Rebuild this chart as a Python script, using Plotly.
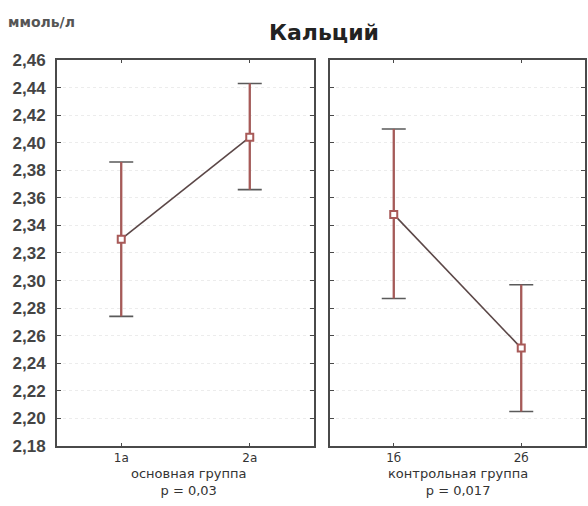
import plotly.graph_objects as go

# data
groups_left = ["1а", "2а"]
means_left = [2.330, 2.404]
upper_left = [2.386, 2.443]
lower_left = [2.274, 2.366]

groups_right = ["1б", "2б"]
means_right = [2.348, 2.251]
upper_right = [2.410, 2.297]
lower_right = [2.287, 2.205]

y_ticks = [2.18, 2.20, 2.22, 2.24, 2.26, 2.28, 2.30, 2.32, 2.34, 2.36, 2.38, 2.40, 2.42, 2.44, 2.46]
group_labels = ["основная группа", "контрольная группа"]
p_labels = ["p = 0,03", "p = 0,017"]
title = "Кальций"
unit = "ммоль/л"

W, H = 588, 506
def px(x): return x / W
def py(y): return 1 - y / H

line_col = "#5b4747"
err_col = "#a85a58"
cap_col = "#5a5a5a"
frame_col = "#4a4a4a"
font = "Liberation Sans"
txt = "DejaVu Sans"

fig = go.Figure()

def add_panel(xs, means, up, lo, xa, ya):
    plus = [u - m for u, m in zip(up, means)]
    minus = [m - l for m, l in zip(means, lo)]
    # caps (grey)
    fig.add_trace(go.Scatter(x=xs, y=means, mode="markers", marker=dict(size=1, opacity=0),
                             error_y=dict(type="data", array=plus, arrayminus=minus, color=cap_col,
                                          thickness=1.6, width=12),
                             xaxis=xa, yaxis=ya, showlegend=False, hoverinfo="skip"))
    # vertical bars (red)
    fig.add_trace(go.Scatter(x=xs, y=means, mode="markers", marker=dict(size=1, opacity=0),
                             error_y=dict(type="data", array=plus, arrayminus=minus, color=err_col,
                                          thickness=2.2, width=0),
                             xaxis=xa, yaxis=ya, showlegend=False, hoverinfo="skip"))
    fig.add_trace(go.Scatter(x=xs, y=means, mode="lines+markers",
                             line=dict(color=line_col, width=1.6),
                             marker=dict(symbol="square", size=7, color="white",
                                         line=dict(color=err_col, width=2)),
                             xaxis=xa, yaxis=ya, showlegend=False))

add_panel(groups_left, means_left, upper_left, lower_left, "x", "y")
add_panel(groups_right, means_right, upper_right, lower_right, "x2", "y2")

xcommon = dict(type="category", range=[-0.5, 1.5], showline=True, linecolor=frame_col, linewidth=2,
               mirror="allticks", ticks="inside", ticklen=3, tickcolor=frame_col, showgrid=False,
               zeroline=False, tickfont=dict(family=txt, size=12, color="#333"))
ycommon = dict(range=[2.18, 2.46], tickvals=y_ticks, tickformat=".2f", showline=True,
               linecolor=frame_col, linewidth=2, mirror="allticks", ticks="inside", ticklen=4,
               tickcolor=frame_col, showgrid=True, gridcolor="#ececec", griddash="dot", zeroline=False)

fig.update_layout(
    width=W, height=H, margin=dict(l=0, r=0, t=0, b=0),
    paper_bgcolor="white", plot_bgcolor="white", separators=", ",
    xaxis=dict(domain=[px(57), px(314)], anchor="y", **xcommon),
    xaxis2=dict(domain=[px(330), px(585)], anchor="y2", **xcommon),
    yaxis=dict(domain=[py(454), py(53)], anchor="x", showticklabels=True, ticklabelstandoff=6,
               tickfont=dict(family=font, size=17, color="#444", weight="bold"), **ycommon),
    yaxis2=dict(domain=[py(454), py(53)], anchor="x2", showticklabels=False, **ycommon),
    annotations=[
        dict(text=title, x=px(324), y=py(24), xref="paper", yref="paper", showarrow=False,
             font=dict(family=txt, size=22, color="#222", weight="bold"), xanchor="center", yanchor="middle"),
        dict(text=unit, x=px(6), y=py(14), xref="paper", yref="paper", showarrow=False,
             font=dict(family=txt, size=14, color="#555", weight="bold"), xanchor="left", yanchor="middle"),
        dict(text=group_labels[0] + "<br>" + p_labels[0], x=px(188), y=py(491), xref="paper", yref="paper",
             showarrow=False, font=dict(family=txt, size=13, color="#333"), xanchor="center", yanchor="middle"),
        dict(text=group_labels[1] + "<br>" + p_labels[1], x=px(458), y=py(491), xref="paper", yref="paper",
             showarrow=False, font=dict(family=txt, size=13, color="#333"), xanchor="center", yanchor="middle"),
    ],
)

fig.write_html("out.html")
